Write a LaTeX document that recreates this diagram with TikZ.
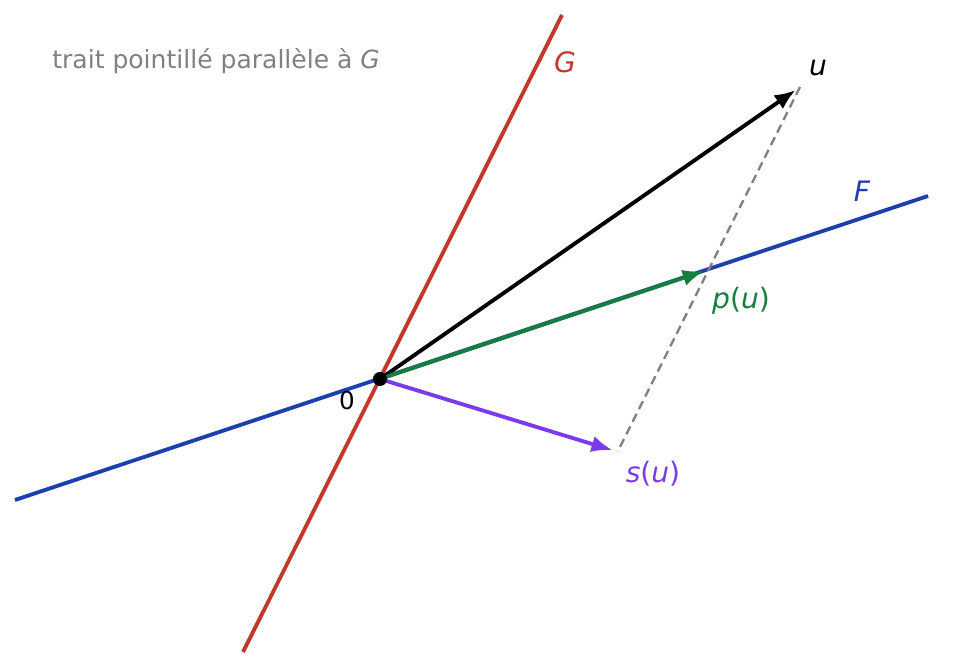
\documentclass[tikz,border=0pt]{standalone}
\usepackage{fontspec}
\setmainfont{DejaVu Sans}
\usetikzlibrary{arrows.meta}

\definecolor{gred}{RGB}{192,57,43}
\definecolor{fblue}{RGB}{30,64,175}
\definecolor{pgreen}{RGB}{21,128,61}
\definecolor{spurple}{RGB}{124,58,237}
\definecolor{dgray}{RGB}{128,128,128}

\tikzset{
  droite/.style={line width=2.2pt},
  vecteur/.style={line width=2.2pt, -{Latex[length=12pt,width=9.5pt]}, shorten >=3pt},
  etiquette/.style={font=\fontsize{16}{18}\selectfont, inner sep=0pt}
}

\begin{document}
\begin{tikzpicture}[x=0.02cm,y=-0.02cm]
			\useasboundingbox (0,0) rectangle (960,668);
			
			\coordinate (O) at (380,379); % origine
			\coordinate (G1) at (243,652); % bas de G
			\coordinate (G2) at (562,15); % haut de G
			\coordinate (F1) at (15,500); % gauche de F
			\coordinate (F2) at (928,196); % droite de F
			\coordinate (U) at (800,87); % vecteur u
			\coordinate (P) at (708.8,269.4); % projection p(u)
			\coordinate (S) at (617.6,451.8); % symetrie s(u)
			
			\draw[droite, gred] (G1) -- (G2); % droite G
			\draw[droite, fblue] (F1) -- (F2); % droite F
			\draw[dgray, line width=1.3pt, dash pattern=on 5pt off 3pt] (U) -- (S); % parallele a G
			
			\draw[vecteur, black] (O) -- (U); % u
			\draw[vecteur, pgreen] (O) -- (P); % p(u)
			\draw[vecteur, spurple] (O) -- (S); % s(u)
			\fill[black] (O) circle (4pt); % point 0
			
			\node[etiquette, gred] (labG) at (565,62) {\textit{G}}; % Label for G
			\node[etiquette, fblue] (labF) at (862,191) {\textit{F}}; % Label for F
			\node[etiquette, black] (labU) at (818,68) {\textit{u}}; % Label for u
			\node[etiquette, pgreen] (labP) at (741,301) {\textit{p}(\textit{u})}; % Label for p(u)
			\node[etiquette, spurple] (labS) at (653,474) {\textit{s}(\textit{u})}; % Label for s(u)
			\node[etiquette, black, font=\fontsize{14}{16}\selectfont] (lab0) at (347,401) {0}; % Label for 0
			\node[inner sep=0pt, anchor=west, dgray, font=\fontsize{14.25}{16}\selectfont] (titre) at (52,61) {trait pointillé parallèle à \textit{G}}; % legende
		\end{tikzpicture}
\end{document}
